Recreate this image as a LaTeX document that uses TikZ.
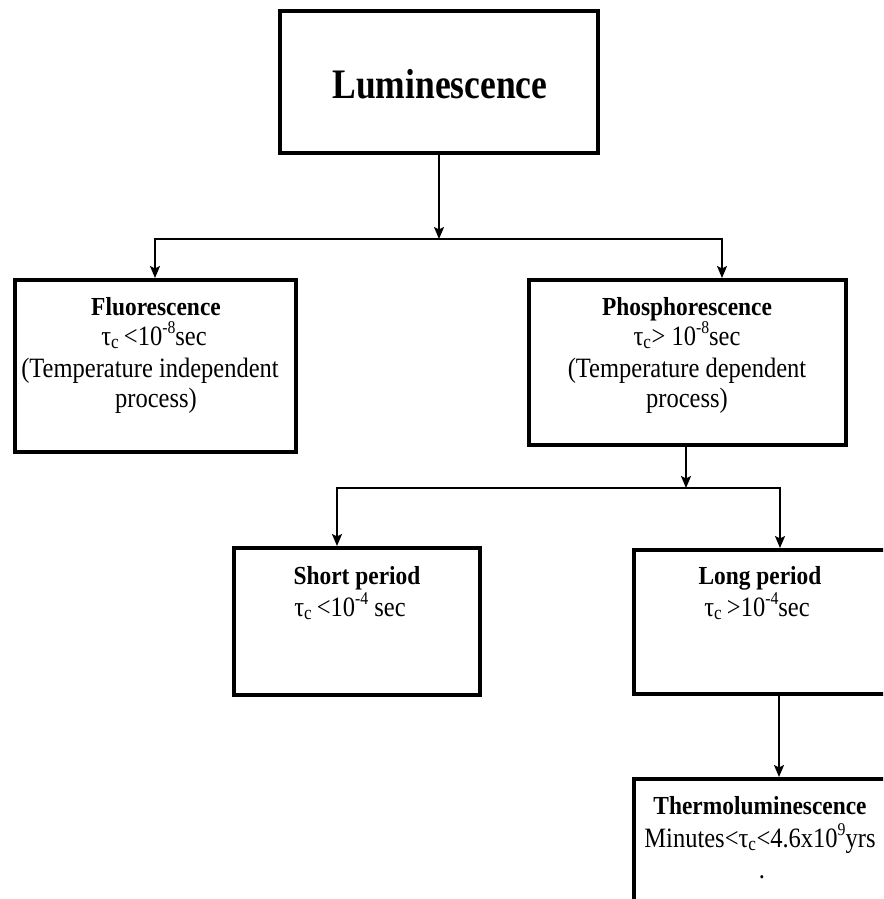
\documentclass[tikz,border=0pt]{standalone}
\usepackage{fontspec}
\setmainfont[FakeStretch=0.875]{Liberation Serif}
\newfontfamily\ttlf[FakeStretch=0.9]{Liberation Serif}
\newfontfamily\lumf[FakeStretch=0.845]{Liberation Serif}
\usetikzlibrary{arrows.meta}
\tikzset{
  box/.style={draw=black, line width=4pt, fill=white},
  conn/.style={line width=2pt, draw=black},
  arr/.style={conn, -{Stealth[length=12pt,width=10pt,inset=2.5pt]}},
  ttl/.style={anchor=base, inner sep=0pt, font=\ttlf\fontsize{26}{30}\selectfont\bfseries},
  txt/.style={anchor=base, inner sep=0pt, font=\fontsize{28}{32}\selectfont},
}
\newcommand{\tc}{τ\textsubscript{c}}
\newcommand{\supx}[1]{\raisebox{0.9ex}{\fontsize{18}{20}\selectfont #1}}
\begin{document}
\begin{tikzpicture}[x=1pt,y=-1pt]
\useasboundingbox (0,0) rectangle (883,899);
\clip (0,0) rectangle (883,899);
% boxes
\draw[box] (280,11) rectangle (598,153);
\draw[box] (15,280) rectangle (296,452);
\draw[box] (529,280) rectangle (846,445);
\draw[box] (234,548) rectangle (480,695);
\draw[box] (634,550) rectangle (895,694);
\draw[box] (634,779) rectangle (895,920);
% named anchors for boxes
\coordinate (lumS) at (439,153);
\coordinate (fluN) at (155,278);
\coordinate (phoN) at (722,278);
\coordinate (phoS) at (686,445);
\coordinate (shoN) at (337,546);
\coordinate (lonN) at (780,548);
\coordinate (lonS) at (779,694);
\coordinate (theN) at (779,777);
% junctions
\coordinate (j1) at (439,239);
\coordinate (j1l) at (155,239);
\coordinate (j1r) at (722,239);
\coordinate (j2) at (686,488);
\coordinate (j2l) at (337,488);
\coordinate (j2r) at (780,488);
% connectors
\draw[arr] (lumS) -- (j1);
\draw[conn, line cap=rect] (j1l) -- (j1r);
\draw[arr] (j1l) -- (fluN);
\draw[arr] (j1r) -- (phoN);
\draw[arr] (phoS) -- (j2);
\draw[conn, line cap=rect] (j2l) -- (j2r);
\draw[arr] (j2l) -- (shoN);
\draw[arr] (j2r) -- (lonN);
\draw[arr] (lonS) -- (theN);
% texts
\node[anchor=base, inner sep=0pt, font=\lumf\fontsize{42}{46}\selectfont\bfseries] (tlum) at (440,98) {Luminescence};
\node[ttl] (tflu1) at (156,315) {Fluorescence};
\node[txt] (tflu2) at (154,345) {\tc\,<10\supx{-8}sec};
\node[txt] (tflu3) at (150,377) {(Temperature independent};
\node[txt] (tflu4) at (156,407) {process)};
\node[ttl] (tpho1) at (687,315) {Phosphorescence};
\node[txt] (tpho2) at (687,345) {\tc > 10\supx{-8}sec};
\node[txt] (tpho3) at (687,377) {(Temperature dependent};
\node[txt] (tpho4) at (687,407) {process)};
\node[ttl] (tsho1) at (357,584) {Short period};
\node[txt] (tsho2) at (350,616) {\tc\,<10\supx{-4} sec};
\node[ttl] (tlon1) at (760,584) {Long period};
\node[txt] (tlon2) at (757,616) {\tc\,>10\supx{-4}sec};
\node[ttl] (tthe1) at (760,814) {Thermoluminescence};
\node[txt] (tthe2) at (760,847) {Minutes<\tc<4.6x10\supx{9}yrs};
\node[txt] (tthe3) at (762,878) {.};
\end{tikzpicture}
\end{document}
